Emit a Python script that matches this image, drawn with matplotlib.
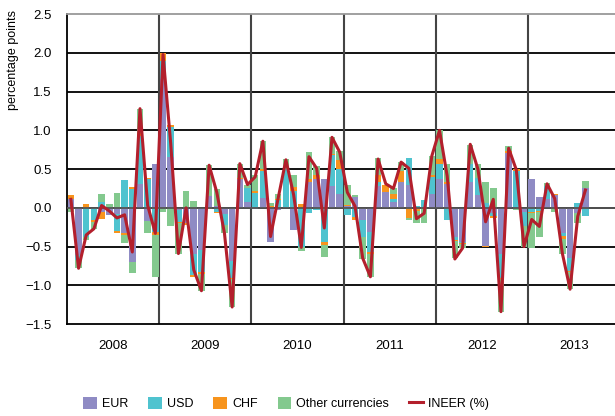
import numpy as np
import matplotlib
matplotlib.use("Agg")
import matplotlib.pyplot as plt

# monthly contributions, Jan 2008 - Aug 2013 (percentage points)
eur = [0.11, -0.61, 0.00, 0.00, -0.05, -0.09, -0.08, -0.33, -0.70, 0.31, -0.17, 0.57,
       1.66, 0.66, -0.03, -0.20, -0.59, -0.55, 0.15, 0.02, -0.08, -0.68, 0.37, 0.08,
       -0.02, 0.13, -0.44, -0.03, 0.00, -0.28, 0.00, 0.34, 0.37, 0.37, 0.28, 0.18,
       0.02, 0.14, -0.16, -0.31, 0.28, 0.21, 0.08, 0.34, 0.30, 0.00, 0.00, 0.18,
       0.37, 0.31, -0.37, -0.44, 0.34, 0.17, -0.49, -0.07, -0.59, 0.71, 0.00, -0.06,
       0.37, 0.14, 0.12, 0.16, -0.33, -0.65, -0.07, 0.25]
usd = [0.00, -0.06, -0.37, -0.16, 0.08, 0.00, -0.22, 0.36, 0.24, 0.62, 0.37, -0.31,
       0.23, 0.38, -0.15, 0.00, -0.28, -0.28, 0.00, -0.05, -0.14, -0.22, 0.00, 0.17,
       0.19, 0.35, 0.00, 0.10, 0.50, 0.22, -0.50, -0.07, -0.03, -0.44, 0.40, 0.32,
       -0.09, -0.12, -0.22, -0.26, 0.06, 0.00, 0.04, 0.00, 0.34, 0.03, 0.10, 0.22,
       0.20, -0.16, -0.04, -0.02, 0.22, 0.22, 0.06, -0.04, -0.32, 0.00, 0.48, -0.17,
       -0.06, -0.04, 0.16, 0.00, -0.03, -0.17, 0.06, -0.11]
chf = [0.05, 0.00, 0.05, -0.02, -0.10, 0.00, -0.02, -0.02, 0.03, 0.03, 0.01, -0.04,
       0.11, 0.03, -0.01, -0.02, -0.02, -0.02, -0.02, -0.02, 0.00, -0.02, 0.02, 0.01,
       0.03, 0.02, 0.02, 0.02, 0.00, 0.05, 0.05, 0.03, 0.05, -0.04, 0.02, 0.12,
       0.02, -0.04, 0.00, -0.02, 0.08, 0.09, 0.06, 0.13, -0.13, -0.04, 0.00, 0.03,
       0.06, 0.02, -0.02, -0.01, 0.01, 0.00, -0.02, -0.02, -0.01, 0.03, 0.02, -0.01,
       -0.01, -0.01, 0.00, 0.02, -0.04, -0.01, 0.00, 0.01]
other = [-0.06, -0.11, -0.05, -0.09, 0.10, 0.05, 0.19, -0.11, -0.14, 0.32, -0.16, -0.54,
         -0.05, -0.24, -0.40, 0.22, 0.09, -0.22, 0.40, 0.22, -0.10, -0.36, 0.17, 0.03,
         0.20, 0.36, 0.04, 0.06, 0.13, 0.16, -0.06, 0.35, 0.12, -0.15, 0.22, 0.11,
         0.25, 0.03, -0.28, -0.30, 0.22, 0.00, 0.07, 0.12, -0.03, -0.15, -0.19, 0.24,
         0.37, 0.24, -0.22, -0.05, 0.24, 0.17, 0.28, 0.25, -0.42, 0.06, -0.03, -0.27,
         -0.45, -0.32, 0.04, -0.06, -0.19, -0.22, -0.12, 0.09]
ineer = [0.11, -0.78, -0.35, -0.27, 0.03, -0.04, -0.13, -0.09, -0.57, 1.28, 0.03, -0.33,
         1.98, 0.83, -0.59, 0.00, -0.80, -1.07, 0.55, 0.20, -0.33, -1.28, 0.57, 0.30,
         0.40, 0.86, -0.37, 0.13, 0.62, 0.17, -0.51, 0.66, 0.51, -0.26, 0.91, 0.72,
         0.20, 0.02, -0.65, -0.89, 0.63, 0.31, 0.25, 0.59, 0.51, -0.14, -0.07, 0.67,
         1.00, 0.41, -0.66, -0.52, 0.82, 0.50, -0.18, 0.11, -1.34, 0.77, 0.49, -0.50,
         -0.15, -0.24, 0.31, 0.12, -0.59, -1.05, -0.11, 0.23]
years = ["2008", "2009", "2010", "2011", "2012", "2013"]

series = [("EUR", eur, "#8f8bc4"), ("USD", usd, "#4fc3cf"),
          ("CHF", chf, "#f7941d"), ("Other currencies", other, "#83c98e")]

plt.rcParams["font.family"] = ["Liberation Sans", "DejaVu Sans"]

fig = plt.figure(figsize=(6.15, 4.16), dpi=100)
ax = fig.add_axes([0.109, 0.221, 0.891, 0.745])

x = np.arange(len(ineer)) + 0.5
pos = np.zeros(len(x))
neg = np.zeros(len(x))
for name, vals, col in series:
    v = np.array(vals)
    bottom = np.where(v >= 0, pos, neg)
    ax.bar(x, v, width=0.85, bottom=bottom, color=col, label=name, zorder=2)
    pos = pos + np.clip(v, 0, None)
    neg = neg + np.clip(v, None, 0)

ax.axhline(0, color="#555555", lw=1.3, zorder=3)
ax.plot(x, ineer, color="#b31f2c", lw=2.2, label="INEER (%)", zorder=4)

ax.set_xlim(0, 71.35)
ax.set_ylim(-1.5, 2.5)
yt = np.arange(-1.5, 2.51, 0.5)
ax.set_yticks(yt)
ax.set_yticklabels([("%.1f" % t).replace("-", "\u2212") for t in yt], fontsize=9.5)
ax.set_xticks([])
ax.tick_params(axis="y", length=0, pad=11)
for t in yt[1:-1]:
    ax.axhline(t, color="black", lw=1.3, zorder=1)
for b in range(12, 72, 12):
    ax.axvline(b, color="#444444", lw=1.5, zorder=1)
for i, yr in enumerate(years):
    ax.text(6 + 12 * i, -0.071, yr, transform=ax.get_xaxis_transform(),
            ha="center", va="center", fontsize=9.5)

ax.spines["right"].set_visible(False)
ax.spines["top"].set_color("#999999")
ax.spines["bottom"].set_color("black")
ax.spines["left"].set_color("black")
for s in ax.spines.values():
    s.set_linewidth(1.3)

fig.text(0.012, 0.975, "percentage points", rotation=90, ha="left", va="top", fontsize=9)

h, l = ax.get_legend_handles_labels()
order = [1, 2, 3, 4, 0]
fig.legend([h[k] for k in order], [l[k] for k in order], loc="center",
           bbox_to_anchor=(0.465, 0.03), ncol=5, frameon=False, fontsize=9,
           handlelength=1.1, handleheight=1.1, columnspacing=1.6, handletextpad=0.4)

fig.savefig("out.png", dpi=100)
